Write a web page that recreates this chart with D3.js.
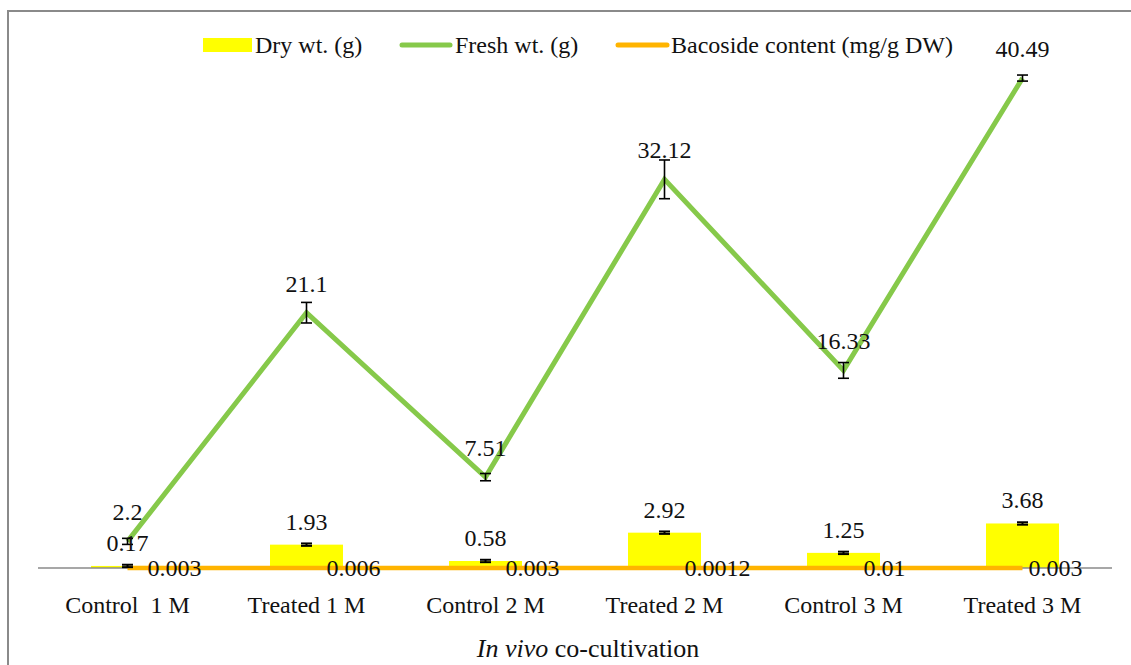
<!DOCTYPE html>
<html>
<head>
<meta charset="utf-8">
<script src="https://cdn.jsdelivr.net/npm/d3@7"></script>
<style>
  html, body { margin: 0; padding: 0; background: #fff; }
  svg { display: block; font-family: "Liberation Serif", "Times New Roman", serif; }
</style>
</head>
<body>
<svg id="chart" width="1131" height="665"></svg>
<script>
const categories = ["Control  1 M", "Treated 1 M", "Control 2 M", "Treated 2 M", "Control 3 M", "Treated 3 M"];
const dryWt = [0.17, 1.93, 0.58, 2.92, 1.25, 3.68];
const dryErr = [0.1, 0.1, 0.1, 0.1, 0.1, 0.1];
const freshWt = [2.2, 21.1, 7.51, 32.12, 16.33, 40.49];
const freshErr = [0.25, 0.85, 0.3, 1.6, 0.65, 0.25];
const bacoside = [0.003, 0.006, 0.003, 0.0012, 0.01, 0.003];
const bacosideLabels = ["0.003", "0.006", "0.003", "0.0012", "0.01", "0.003"];

const svg = d3.select("#chart");

// outer frame (runs off the right and bottom edges)
svg.append("rect")
  .attr("x", 8).attr("y", 11)
  .attr("width", 1130).attr("height", 670)
  .attr("fill", "none")
  .attr("stroke", "#8a8a8a")
  .attr("stroke-width", 2);

const x = d3.scaleBand().domain(categories).range([38, 1112]);
const y = d3.scaleLinear().domain([0, 45]).range([568, 568 - 45 * 12.1]);
const cx = c => x(c) + x.bandwidth() / 2;
const barW = 73;

const rows = categories.map((c, i) => ({
  c, i, dry: dryWt[i], dryE: dryErr[i], fresh: freshWt[i], freshE: freshErr[i],
  bac: bacoside[i], bacLabel: bacosideLabels[i]
}));

// bars
svg.append("g").selectAll("rect")
  .data(rows)
  .join("rect")
  .attr("x", d => cx(d.c) - barW / 2)
  .attr("width", barW)
  .attr("y", d => y(d.dry))
  .attr("height", d => y(0) - y(d.dry))
  .attr("fill", "#ffff00");

// category axis
const axis = svg.append("g").attr("transform", `translate(0,${y(0)})`)
  .call(d3.axisBottom(x).tickSize(0).tickPadding(28));
axis.select(".domain").attr("stroke", "#8a8a8a").attr("stroke-width", 1.5).attr("d", "M38,0H1112");
axis.selectAll("text")
  .attr("font-size", 24)
  .attr("fill", "#111")
  .style("font-family", '"Liberation Serif", "Times New Roman", serif')
  .style("white-space", "pre");

// fresh weight line
svg.append("path")
  .datum(rows)
  .attr("d", d3.line().x(d => cx(d.c)).y(d => y(d.fresh)))
  .attr("fill", "none")
  .attr("stroke", "#86c94a")
  .attr("stroke-width", 5)
  .attr("stroke-linejoin", "miter");

// bacoside line
svg.append("path")
  .datum(rows)
  .attr("d", d3.line().x(d => cx(d.c)).y(d => y(d.bac)))
  .attr("fill", "none")
  .attr("stroke", "#ffb400")
  .attr("stroke-width", 4.5);

// error bars
function errorBars(key, errKey, capW, sw) {
  const g = svg.append("g").attr("stroke", "#000").attr("stroke-width", sw);
  rows.forEach(d => {
    const px = cx(d.c), top = y(d[key] + d[errKey]), bot = y(d[key] - d[errKey]);
    g.append("line").attr("x1", px).attr("x2", px).attr("y1", top).attr("y2", bot);
    g.append("line").attr("x1", px - capW / 2).attr("x2", px + capW / 2).attr("y1", top).attr("y2", top);
    g.append("line").attr("x1", px - capW / 2).attr("x2", px + capW / 2).attr("y1", bot).attr("y2", bot);
  });
}
errorBars("fresh", "freshE", 11, 1.6);
errorBars("dry", "dryE", 11, 2);

// labels
const labels = svg.append("g").attr("font-size", 24).attr("fill", "#111");
labels.selectAll(".lf").data(rows).join("text")
  .attr("x", d => cx(d.c)).attr("y", d => y(d.fresh) - 21)
  .attr("text-anchor", "middle").text(d => d.fresh);
labels.selectAll(".ld").data(rows).join("text")
  .attr("x", d => cx(d.c)).attr("y", d => y(d.dry) - 15)
  .attr("text-anchor", "middle").text(d => d.dry);
labels.selectAll(".lb").data(rows).join("text")
  .attr("x", d => cx(d.c) + (d.i === rows.length - 1 ? 6 : 20)).attr("y", d => y(d.bac))
  .attr("dy", "0.35em").text(d => d.bacLabel);

// axis title
const title = svg.append("text")
  .attr("x", 588).attr("y", 657)
  .attr("text-anchor", "middle").attr("font-size", 26).attr("fill", "#111");
title.append("tspan").attr("font-style", "italic").text("In vivo");
title.append("tspan").text(" co-cultivation");

// legend
const legend = svg.append("g").attr("font-size", 24).attr("fill", "#111");
legend.append("rect").attr("x", 203).attr("y", 38).attr("width", 49).attr("height", 14).attr("fill", "#ffff00");
legend.append("text").attr("x", 255).attr("y", 53).text("Dry wt. (g)");
legend.append("line").attr("x1", 402).attr("x2", 450).attr("y1", 45).attr("y2", 45)
  .attr("stroke", "#86c94a").attr("stroke-width", 5).attr("stroke-linecap", "round");
legend.append("text").attr("x", 455).attr("y", 53).text("Fresh wt. (g)");
legend.append("line").attr("x1", 618).attr("x2", 667).attr("y1", 45).attr("y2", 45)
  .attr("stroke", "#ffb400").attr("stroke-width", 5).attr("stroke-linecap", "round");
legend.append("text").attr("x", 671).attr("y", 53).text("Bacoside content (mg/g DW)");
</script>
</body>
</html>
